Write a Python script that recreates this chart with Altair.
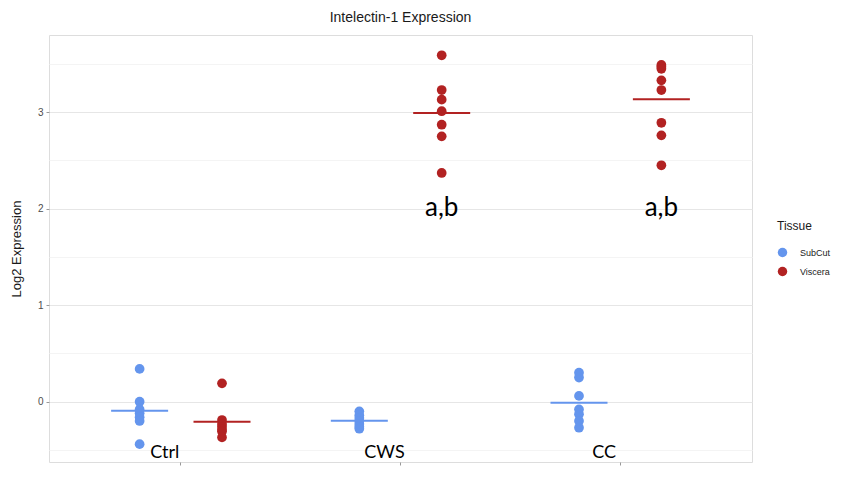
import altair as alt
import pandas as pd

groups = ["Ctrl", "CWS", "CC"]
tissues = ["SubCut", "Viscera"]
colors = ["#6495ED", "#B22222"]

ctrl_subcut = [0.34, 0.0, -0.08, -0.12, -0.16, -0.20, -0.44]
ctrl_viscera = [0.19, -0.19, -0.23, -0.26, -0.29, -0.31, -0.37]
cws_subcut = [-0.10, -0.14, -0.17, -0.20, -0.23, -0.26, -0.28]
cws_viscera = [3.59, 3.23, 3.13, 3.01, 2.87, 2.75, 2.37]
cc_subcut = [0.30, 0.25, 0.06, -0.08, -0.13, -0.20, -0.27]
cc_viscera = [3.49, 3.47, 3.45, 3.33, 3.23, 2.89, 2.76, 2.45]

annot_groups = ["CWS", "CC"]
annot_tissue = ["Viscera", "Viscera"]
annot_y = [1.92, 1.92]
annot_text = ["a,b", "a,b"]

series = {
    ("Ctrl", "SubCut"): ctrl_subcut,
    ("Ctrl", "Viscera"): ctrl_viscera,
    ("CWS", "SubCut"): cws_subcut,
    ("CWS", "Viscera"): cws_viscera,
    ("CC", "SubCut"): cc_subcut,
    ("CC", "Viscera"): cc_viscera,
}
rows = []
for (g, t), vals in series.items():
    for v in vals:
        rows.append({"Group": g, "Tissue": t, "Value": v})
df = pd.DataFrame(rows)
ann = pd.DataFrame({"Group": annot_groups, "Tissue": annot_tissue,
                    "Value": annot_y, "Label": annot_text})

is_int = "abs(datum.value - round(datum.value)) < 0.001"

x_enc = alt.X(
    "Group:N", sort=groups,
    scale=alt.Scale(paddingInner=0, paddingOuter=0.1),
    axis=alt.Axis(title=None, bandPosition=0.5, labelFont="Lato", labelFontSize=18,
                  labelColor="black", labelAngle=0, labelPadding=-13, labelOffset=-16,
                  labelBaseline="middle",
                  tickColor="#999999", tickSize=3, domain=False,
                  gridColor="#ebebeb", gridWidth=1),
)
xo_enc = alt.XOffset("Tissue:N", sort=tissues,
                     scale=alt.Scale(paddingInner=0, paddingOuter=1 / 3))
y_scale = alt.Scale(domain=[-0.625, 3.80], nice=False, zero=False)
y_axis = alt.Axis(
    title="Log2 Expression", values=[-0.5, 0, 0.5, 1, 1.5, 2, 2.5, 3, 3.5],
    labelExpr=f"{is_int} ? format(datum.value, 'd') : ''",
    gridColor={"condition": {"test": is_int, "value": "#e6e6e6"}, "value": "#f4f4f4"},
    tickColor={"condition": {"test": is_int, "value": "#999999"}, "value": "transparent"},
    tickSize=3, domain=False, labelFont="Liberation Sans", labelFontSize=10,
    labelColor="#4d4d4d", labelPadding=3, titleFont="Liberation Sans",
    titleFontSize=13, titleFontWeight="normal", titleColor="#1a1a1a", titlePadding=14,
)
color_enc = alt.Color(
    "Tissue:N", sort=tissues,
    scale=alt.Scale(domain=tissues, range=colors),
    legend=alt.Legend(title="Tissue", orient="none", legendX=728, legendY=186,
                      symbolType="circle", symbolSize=90, titleFontSize=12,
                      titleFont="Liberation Sans", titleFontWeight="normal",
                      titleColor="#1a1a1a", labelFont="Liberation Sans",
                      labelFontSize=9, labelColor="#1a1a1a", titlePadding=14,
                      rowPadding=8, labelOffset=12, symbolOpacity=1),
)

points = alt.Chart(df).mark_circle(size=95, opacity=1).encode(
    x=x_enc, xOffset=xo_enc, y=alt.Y("Value:Q", scale=y_scale, axis=y_axis),
    color=color_enc,
)
means = alt.Chart(df).mark_tick(thickness=2, size=57, opacity=1).encode(
    x=x_enc, xOffset=xo_enc, y=alt.Y("mean(Value):Q", scale=y_scale, axis=y_axis),
    color=color_enc,
)
labels = alt.Chart(ann).mark_text(font="Lato", fontSize=26, color="black",
                                  baseline="alphabetic", align="center").encode(
    x=x_enc, xOffset=xo_enc, y=alt.Y("Value:Q", scale=y_scale, axis=y_axis),
    text="Label:N",
)

chart = (points + means + labels).properties(
    width=703, height=427,
    title=alt.TitleParams("Intelectin-1 Expression", font="Liberation Sans",
                          fontSize=14, fontWeight="normal", color="#1a1a1a",
                          anchor="middle", offset=10),
    autosize=alt.AutoSizeParams(type="none"),
    padding={"left": 49, "top": 35, "right": 89, "bottom": 25},
).configure_view(stroke="#b3b3b3", strokeWidth=1.2).configure(background="white")

chart.save("out.html", embed_options={"renderer": "svg", "actions": False})
